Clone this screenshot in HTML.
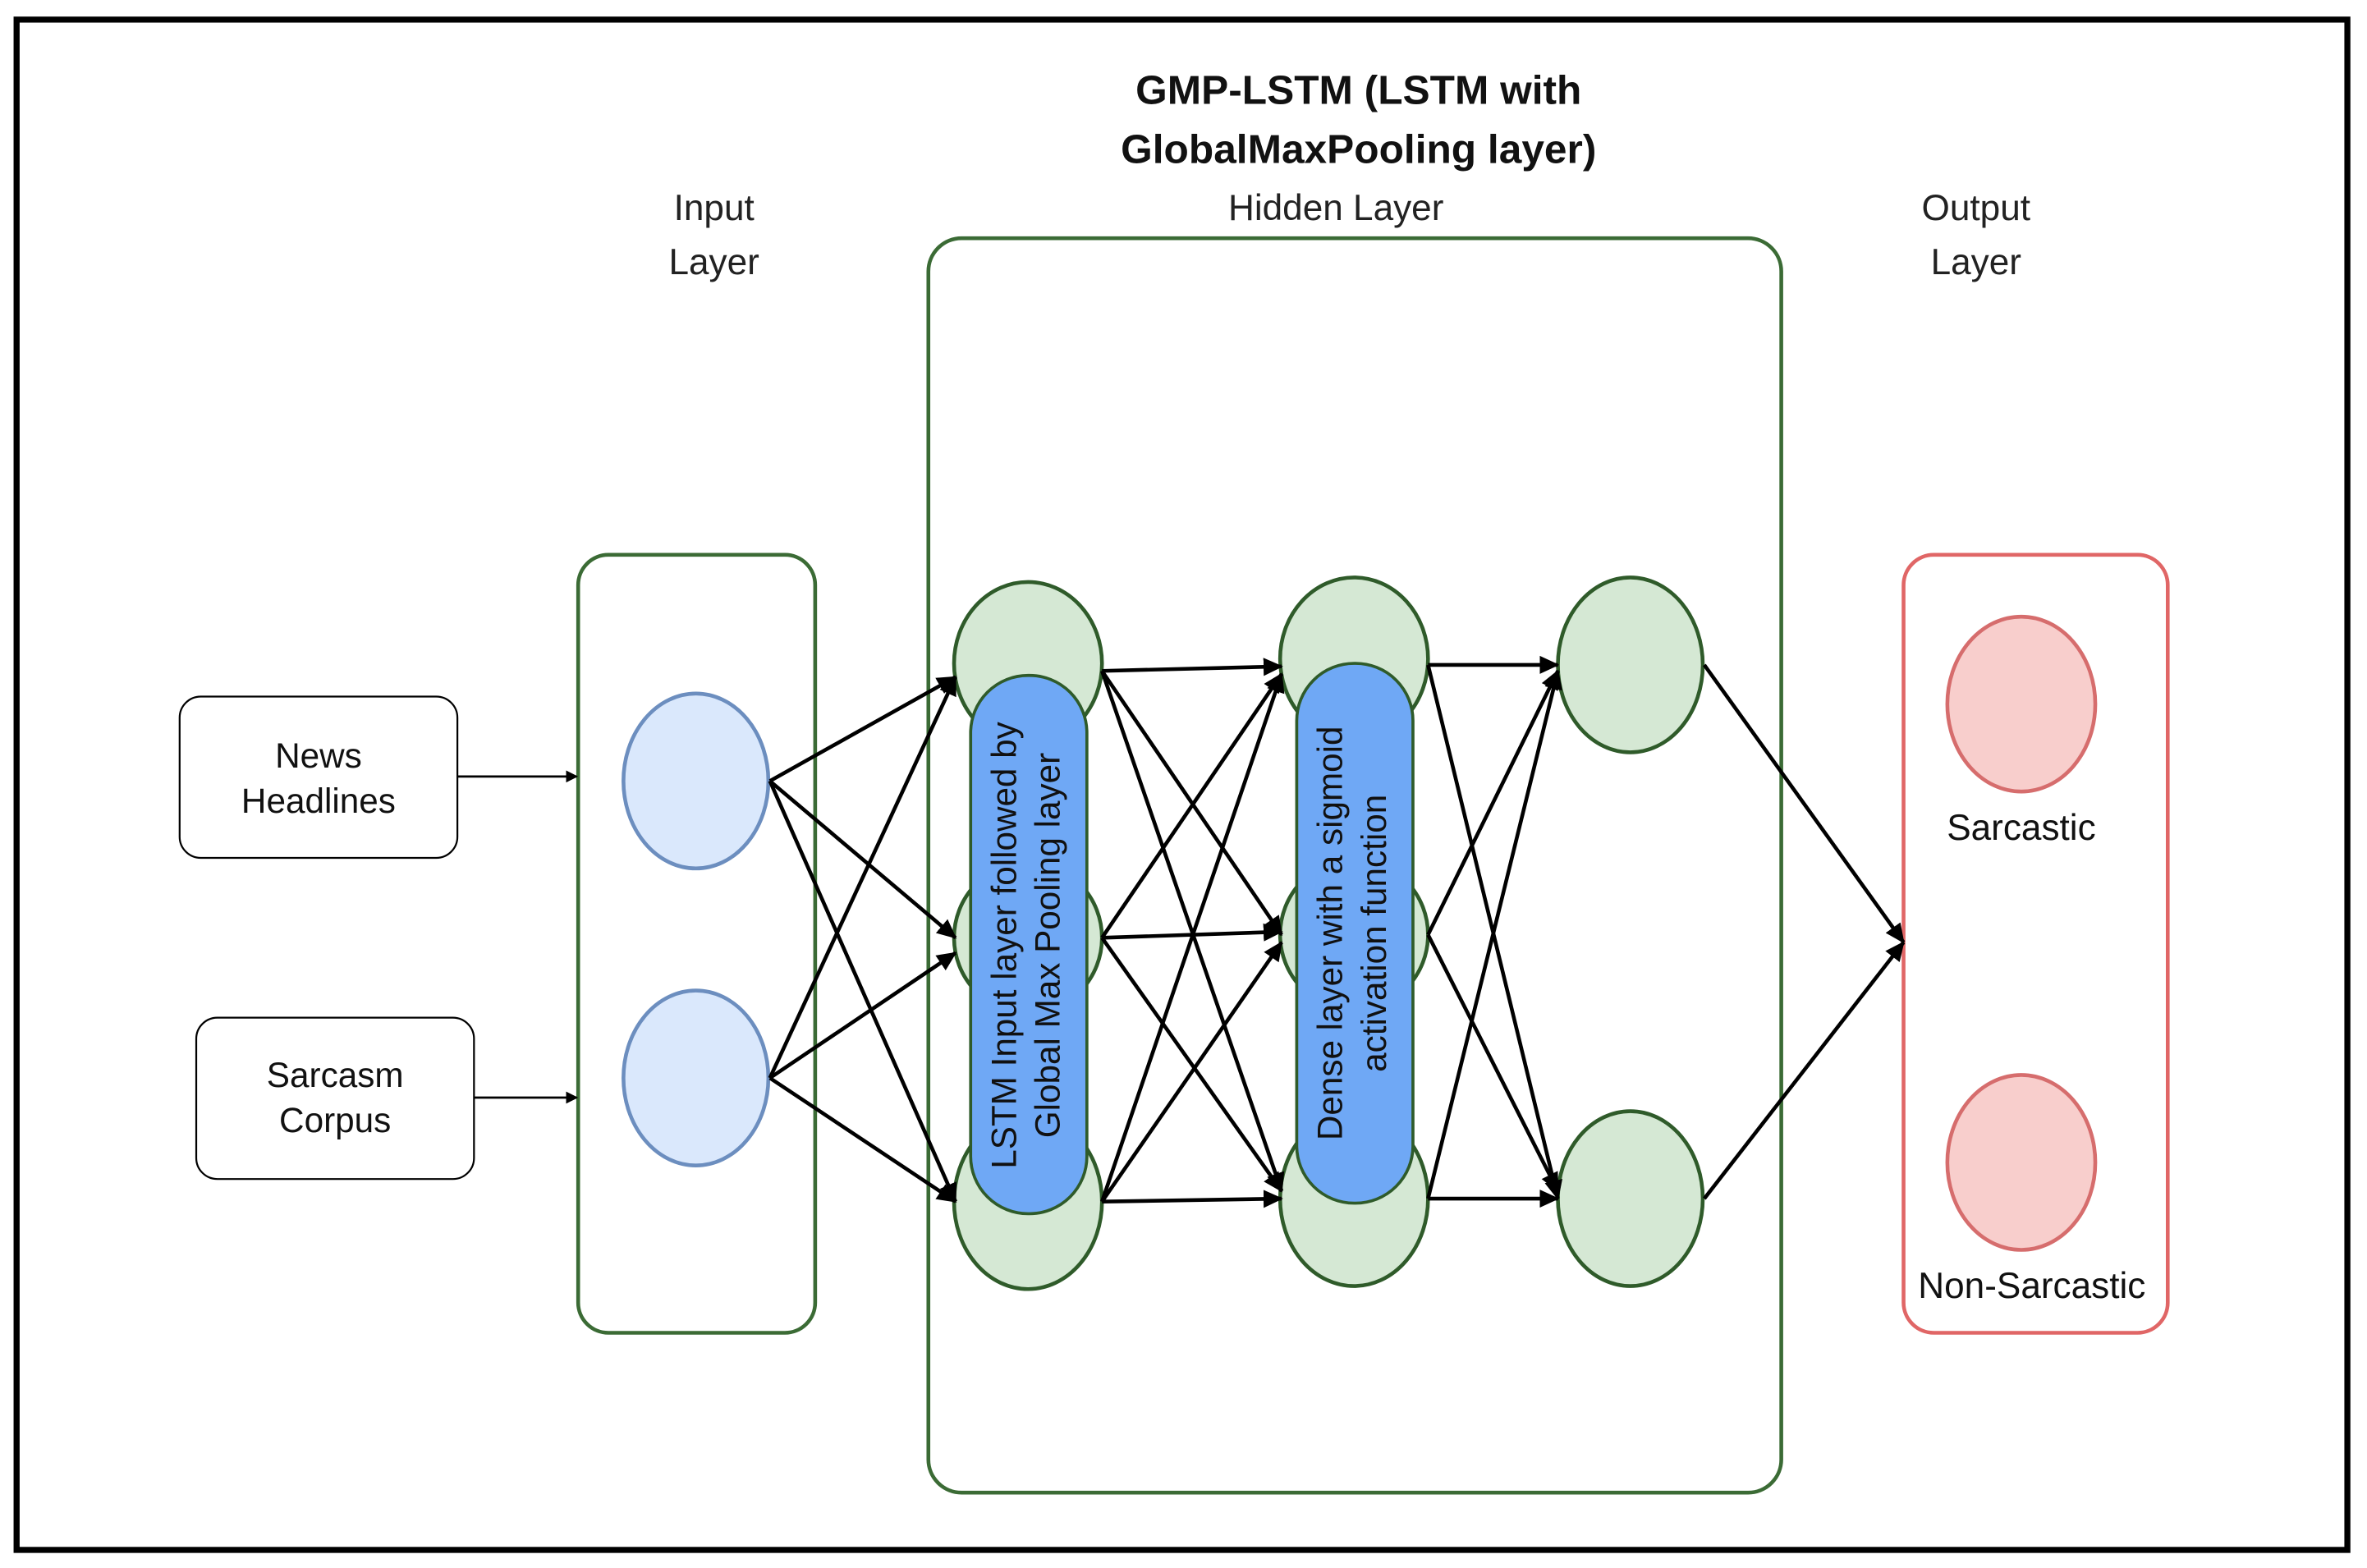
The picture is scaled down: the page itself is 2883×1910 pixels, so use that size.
<!DOCTYPE html>
<html><head><style>html,body{margin:0;padding:0;background:#fff}svg{display:block}</style></head>
<body>
<svg width="2883" height="1910" viewBox="0 0 1568 1040" preserveAspectRatio="none" xmlns="http://www.w3.org/2000/svg" font-family="Liberation Sans, sans-serif">
<defs><marker id="a" markerWidth="8" markerHeight="8" refX="7" refY="4" orient="auto" markerUnits="userSpaceOnUse" viewBox="0 0 8 8"><path d="M0,0 L8,4 L0,8 z" fill="#000"/></marker>
<marker id="b" markerWidth="14" markerHeight="14" refX="12" refY="7" orient="auto" markerUnits="userSpaceOnUse" viewBox="0 0 14 14"><path d="M0,1 L13,7 L0,13 z" fill="#000"/></marker></defs>
<rect x="0" y="0" width="1568" height="1040" fill="#fff"/>
<rect x="11" y="13" width="1544" height="1015" fill="none" stroke="#000" stroke-width="4"/>
<g font-weight="bold" font-size="27" text-anchor="middle" fill="#111"><text x="900" y="69">GMP-LSTM (LSTM with</text><text x="900" y="108">GlobalMaxPooling layer)</text></g>
<g font-size="24" text-anchor="middle" fill="#222"><text x="473" y="146">Input</text><text x="473" y="182">Layer</text><text x="885" y="146">Hidden Layer</text><text x="1309" y="146">Output</text><text x="1309" y="182">Layer</text></g>
<rect x="383" y="368" width="157" height="516" rx="20" fill="none" stroke="#3b6b35" stroke-width="2.5"/>
<rect x="615" y="158" width="565" height="832" rx="22" fill="none" stroke="#3b6b35" stroke-width="2.5"/>
<rect x="1261" y="368" width="175" height="516" rx="20" fill="none" stroke="#e06666" stroke-width="2.5"/>
<rect x="119" y="462" width="184" height="107" rx="14" fill="#fff" stroke="#000" stroke-width="1.2"/>
<rect x="130" y="675" width="184" height="107" rx="14" fill="#fff" stroke="#000" stroke-width="1.2"/>
<g font-size="23" text-anchor="middle" fill="#111"><text x="211" y="509">News</text><text x="211" y="539">Headlines</text><text x="222" y="721">Sarcasm</text><text x="222" y="751">Corpus</text></g>
<line x1="303" y1="515" x2="382" y2="515" stroke="#000" stroke-width="1.5" marker-end="url(#a)"/>
<line x1="314" y1="728" x2="382" y2="728" stroke="#000" stroke-width="1.5" marker-end="url(#a)"/>
<g fill="#dae8fc" stroke="#6c8ebf" stroke-width="2.5"><ellipse cx="461" cy="518" rx="48" ry="58"/><ellipse cx="461" cy="715" rx="48" ry="58"/></g>
<g fill="#d5e8d4" stroke="#2f5b2a" stroke-width="2.5">
<ellipse cx="681" cy="440" rx="49" ry="54"/><ellipse cx="681" cy="622" rx="49" ry="50"/><ellipse cx="681" cy="797" rx="49" ry="58"/>
<ellipse cx="897" cy="437" rx="49" ry="54"/><ellipse cx="897" cy="620" rx="49" ry="50"/><ellipse cx="897" cy="795" rx="49" ry="58"/>
<ellipse cx="1080" cy="441" rx="48" ry="58"/><ellipse cx="1080" cy="795" rx="48" ry="58"/></g>
<g fill="#f8cecc" stroke="#d66d6d" stroke-width="2.5"><ellipse cx="1339" cy="467" rx="49" ry="58"/><ellipse cx="1339" cy="771" rx="49" ry="58"/></g>
<g stroke="#000" stroke-width="2.5" marker-end="url(#b)">
<line x1="510" y1="518" x2="633" y2="449"/><line x1="510" y1="518" x2="633" y2="622"/><line x1="510" y1="518" x2="633" y2="797"/>
<line x1="510" y1="715" x2="633" y2="449"/><line x1="510" y1="715" x2="633" y2="632"/><line x1="510" y1="715" x2="633" y2="797"/>
<line x1="730" y1="445" x2="849" y2="442"/><line x1="730" y1="445" x2="849" y2="620"/><line x1="730" y1="445" x2="849" y2="790"/>
<line x1="730" y1="622" x2="849" y2="447"/><line x1="730" y1="622" x2="849" y2="618"/><line x1="730" y1="622" x2="849" y2="790"/>
<line x1="730" y1="797" x2="849" y2="447"/><line x1="730" y1="797" x2="849" y2="625"/><line x1="730" y1="797" x2="849" y2="795"/>
<line x1="946" y1="441" x2="1032" y2="441"/><line x1="946" y1="441" x2="1032" y2="795"/>
<line x1="946" y1="620" x2="1032" y2="445"/><line x1="946" y1="620" x2="1032" y2="790"/>
<line x1="946" y1="795" x2="1032" y2="445"/><line x1="946" y1="795" x2="1032" y2="795"/>
<line x1="1129" y1="441" x2="1261" y2="625"/><line x1="1129" y1="795" x2="1261" y2="625"/></g>
<rect x="643" y="448" width="77" height="357" rx="38" fill="#6fa8f5" stroke="#2f5b2a" stroke-width="2"/>
<rect x="859" y="440" width="77" height="358" rx="38" fill="#6fa8f5" stroke="#2f5b2a" stroke-width="2"/>
<g font-size="23" text-anchor="middle" fill="#111">
<text transform="translate(673,627) rotate(-90)">LSTM Input layer followed by</text>
<text transform="translate(702,627) rotate(-90)">Global Max Pooling layer</text>
<text transform="translate(889,619) rotate(-90)">Dense layer with a sigmoid</text>
<text transform="translate(918,619) rotate(-90)">activation function</text>
<text x="1339" y="557" font-size="24">Sarcastic</text>
<text x="1346" y="861" font-size="24">Non-Sarcastic</text></g>
</svg>
</body></html>
